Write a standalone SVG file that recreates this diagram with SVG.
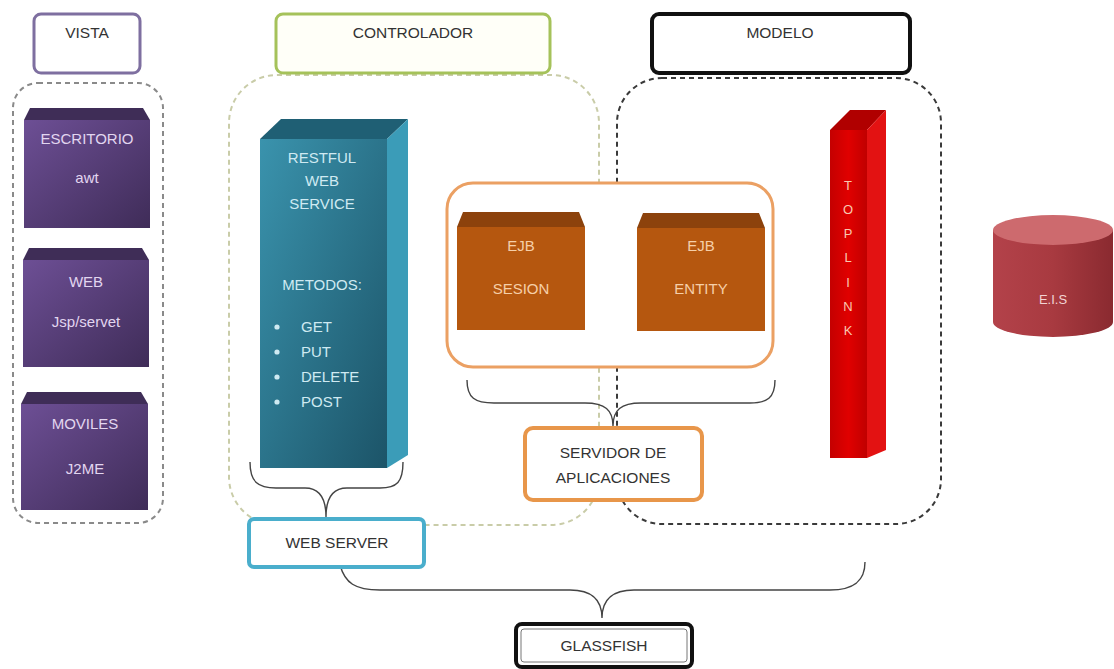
<svg xmlns="http://www.w3.org/2000/svg" width="1114" height="669" viewBox="0 0 1114 669">
<defs>
<style>
text{font-family:"Liberation Sans",Arial,sans-serif;text-anchor:middle}
.hdr{font-size:15.5px;fill:#333}
.lbl{font-size:15.5px;fill:#333}
.pt{font-size:15px;fill:#e2d6f0}
.tt{font-size:15px;fill:#cfeaf2}
.ot{font-size:15px;fill:#f6cfa8}
.rt{font-size:13px;fill:#f8c8b0}
.brace{fill:none;stroke:#444;stroke-width:1.4}
.dash{fill:none;stroke-width:2;stroke-dasharray:5 4}
</style>
<linearGradient id="gPur" x1="0" y1="0" x2="1" y2="1">
<stop offset="0" stop-color="#6d4f95"/><stop offset="1" stop-color="#3f2c58"/>
</linearGradient>
<linearGradient id="gTeal" x1="0" y1="0" x2="1" y2="1">
<stop offset="0" stop-color="#3a93ad"/><stop offset="1" stop-color="#1c5468"/>
</linearGradient>
<linearGradient id="gRed" x1="0" y1="0" x2="1" y2="0">
<stop offset="0" stop-color="#c40000"/><stop offset="0.5" stop-color="#e00000"/><stop offset="1" stop-color="#c00000"/>
</linearGradient>
<linearGradient id="gCyl" x1="0" y1="0" x2="1" y2="0">
<stop offset="0" stop-color="#b3424a"/><stop offset="0.5" stop-color="#a83a40"/><stop offset="1" stop-color="#8a2a30"/>
</linearGradient>
</defs>
<rect width="1114" height="669" fill="#ffffff"/>

<g id="containers">
<rect class="dash" x="13" y="83" width="150" height="440" rx="25" stroke="#8a8a8a"/>
<rect class="dash" x="229" y="75" width="370" height="450" rx="48" stroke="#c9cca8"/>
<rect class="dash" x="617" y="78" width="324" height="446" rx="45" stroke="#3a3a3a"/>
</g>

<g id="vista">
<rect x="34" y="14" width="106" height="59" rx="7" fill="#fff" stroke="#7e6fa0" stroke-width="3"/>
<text class="hdr" x="87" y="38">VISTA</text>
</g>
<g id="controlador">
<rect x="276" y="14" width="274" height="59" rx="7" fill="#fffff8" stroke="#a5c25a" stroke-width="3"/>
<text class="hdr" x="413" y="38">CONTROLADOR</text>
</g>
<g id="modelo">
<rect x="652" y="14" width="258" height="59" rx="7" fill="#fff" stroke="#111" stroke-width="4"/>
<text class="hdr" x="780" y="38">MODELO</text>
</g>

<g id="escritorio">
<polygon points="24,120 30,108 143,108 150,120" fill="#3f2d57"/>
<rect x="24" y="120" width="126" height="108" fill="url(#gPur)"/>
<text class="pt" x="87" y="144">ESCRITORIO</text>
<text class="pt" x="87" y="183">awt</text>
</g>
<g id="web">
<polygon points="23,260 29,248 142,248 149,260" fill="#3f2d57"/>
<rect x="23" y="260" width="126" height="107" fill="url(#gPur)"/>
<text class="pt" x="86" y="287">WEB</text>
<text class="pt" x="86" y="327">Jsp/servet</text>
</g>
<g id="moviles">
<polygon points="21,404 27,392 141,392 148,404" fill="#3f2d57"/>
<rect x="21" y="404" width="127" height="106" fill="url(#gPur)"/>
<text class="pt" x="85" y="429">MOVILES</text>
<text class="pt" x="85" y="474">J2ME</text>
</g>

<g id="restful">
<polygon points="260,139 281,119 408,119 387,139" fill="#1f5f74"/>
<polygon points="387,139 408,119 408,455 387,468" fill="#3b9cb8"/>
<rect x="260" y="139" width="127" height="329" fill="url(#gTeal)"/>
<text class="tt" x="322" y="163">RESTFUL</text>
<text class="tt" x="322" y="186">WEB</text>
<text class="tt" x="322" y="209">SERVICE</text>
<text class="tt" x="322" y="290">METODOS:</text>
<circle cx="277" cy="327" r="2.6" fill="#cfeaf2"/>
<circle cx="277" cy="352" r="2.6" fill="#cfeaf2"/>
<circle cx="277" cy="377" r="2.6" fill="#cfeaf2"/>
<circle cx="277" cy="402" r="2.6" fill="#cfeaf2"/>
<text class="tt" x="301" y="332" style="text-anchor:start">GET</text>
<text class="tt" x="301" y="357" style="text-anchor:start">PUT</text>
<text class="tt" x="301" y="382" style="text-anchor:start">DELETE</text>
<text class="tt" x="301" y="407" style="text-anchor:start">POST</text>
</g>

<g id="ejb-container">
<rect x="447" y="183" width="326" height="184" rx="26" fill="#fff" stroke="#eba063" stroke-width="3"/>
</g>
<g id="ejb-sesion">
<polygon points="457,227 463,212 579,212 585,227" fill="#8c420c"/>
<rect x="457" y="227" width="128" height="103" fill="#b5570f"/>
<text class="ot" x="521" y="251">EJB</text>
<text class="ot" x="521" y="294">SESION</text>
</g>
<g id="ejb-entity">
<polygon points="637,228 643,213 759,213 765,228" fill="#8c420c"/>
<rect x="637" y="228" width="128" height="103" fill="#b5570f"/>
<text class="ot" x="701" y="251">EJB</text>
<text class="ot" x="701" y="294">ENTITY</text>
</g>

<g id="toplink">
<polygon points="830,130 850,110 886,110 867,130" fill="#b00000"/>
<polygon points="867,130 886,110 886,450 867,458" fill="#e31212"/>
<rect x="830" y="130" width="37" height="328" fill="url(#gRed)"/>
<text class="rt" x="848" y="190">T</text>
<text class="rt" x="848" y="214">O</text>
<text class="rt" x="848" y="238">P</text>
<text class="rt" x="848" y="262">L</text>
<text class="rt" x="848" y="287">I</text>
<text class="rt" x="848" y="311">N</text>
<text class="rt" x="848" y="335">K</text>
</g>

<g id="eis">
<path d="M993,230 L993,322 A60,15 0 0 0 1113,322 L1113,230 Z" fill="url(#gCyl)"/>
<ellipse cx="1053" cy="230" rx="60" ry="15" fill="#cd6a6e"/>
<text x="1053" y="304" style="font-size:13px;fill:#f2d4d4">E.I.S</text>
</g>

<g id="connectors">
<path class="brace" d="M250,462 C250,482 258,488 276,488 L305,488 C320,488 326,500 326,517 C326,500 332,488 347,488 L380,488 C397,488 403,482 403,462"/>
<path class="brace" d="M467,380 C467,398 475,403 494,403 L585,403 C605,403 613,410 613,426 C613,410 621,403 641,403 L750,403 C767,403 775,398 775,380"/>
<path class="brace" d="M340,565 C345,583 355,590 380,590 L570,590 C592,590 602,600 602,618 C602,600 612,590 634,590 L830,590 C855,590 865,580 865,562"/>
</g>

<g id="servidor">
<rect x="525" y="428" width="177" height="72" rx="8" fill="#fff" stroke="#e8964a" stroke-width="4"/>
<text class="lbl" x="613" y="458">SERVIDOR DE</text>
<text class="lbl" x="613" y="483">APLICACIONES</text>
</g>
<g id="webserver">
<rect x="249" y="519" width="175" height="48" rx="5" fill="#fff" stroke="#4aaecc" stroke-width="4"/>
<text class="lbl" x="337" y="548">WEB SERVER</text>
</g>
<g id="glassfish">
<rect x="516" y="624" width="176" height="43" rx="6" fill="#fff" stroke="#111" stroke-width="4"/>
<rect x="521" y="629" width="166" height="33" rx="3" fill="none" stroke="#777" stroke-width="1"/>
<text class="lbl" x="604" y="651">GLASSFISH</text>
</g>
</svg>
